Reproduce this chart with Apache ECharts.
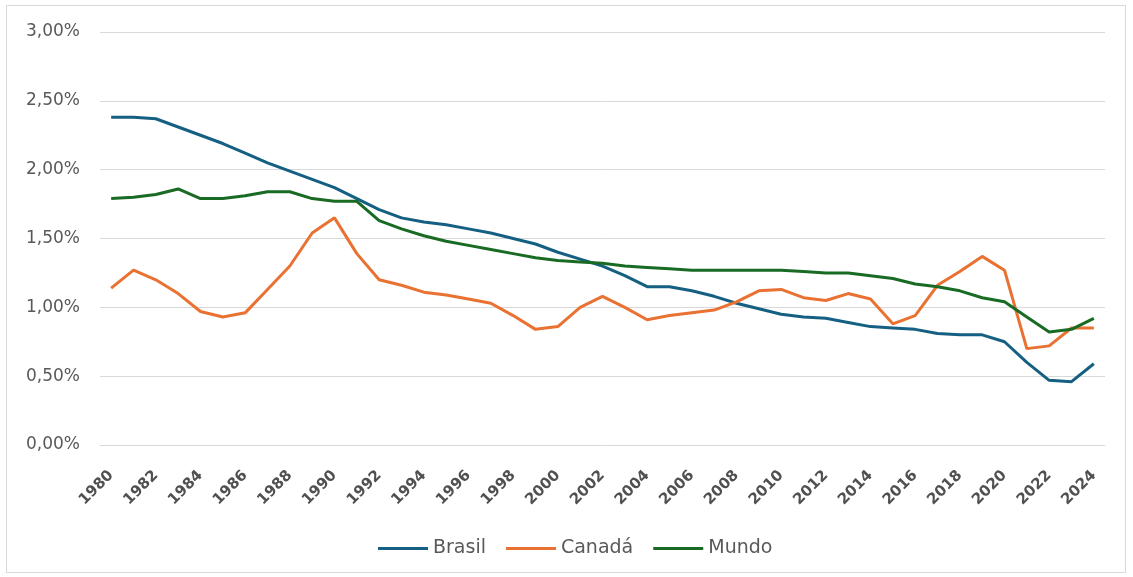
<!DOCTYPE html>
<html>
<head>
<meta charset="utf-8">
<script src="https://cdn.jsdelivr.net/npm/echarts@6/dist/echarts.min.js"></script>
<style>
  html, body { margin: 0; padding: 0; background: #fff; }
  #wrap { position: absolute; left: 6px; top: 5px; width: 1118px; height: 566px; border: 1px solid #d9d9d9; }
  #chart { position: absolute; left: 0; top: 0; width: 1133px; height: 577px; }
</style>
</head>
<body>
<div id="wrap"></div>
<div id="chart"></div>
<script>
// anos 1980 - 2024
var anos = [];
for (var a = 1980; a <= 2024; a++) anos.push(String(a));

// taxa de crescimento (%)
var brasil = [2.38, 2.38, 2.37, 2.31, 2.25, 2.19, 2.12, 2.05, 1.99, 1.93,
  1.87, 1.79, 1.71, 1.65, 1.62, 1.60, 1.57, 1.54, 1.50, 1.46,
  1.40, 1.35, 1.30, 1.23, 1.15, 1.15, 1.12, 1.08, 1.03, 0.99,
  0.95, 0.93, 0.92, 0.89, 0.86, 0.85, 0.84, 0.81, 0.80, 0.80,
  0.75, 0.60, 0.47, 0.46, 0.59];
var canada = [1.14, 1.27, 1.20, 1.10, 0.97, 0.93, 0.96, 1.13, 1.30, 1.54,
  1.65, 1.39, 1.20, 1.16, 1.11, 1.09, 1.06, 1.03, 0.94, 0.84,
  0.86, 1.00, 1.08, 1.00, 0.91, 0.94, 0.96, 0.98, 1.04, 1.12,
  1.13, 1.07, 1.05, 1.10, 1.06, 0.88, 0.94, 1.16, 1.26, 1.37,
  1.27, 0.70, 0.72, 0.85, 0.85];
var mundo = [1.79, 1.80, 1.82, 1.86, 1.79, 1.79, 1.81, 1.84, 1.84, 1.79,
  1.77, 1.77, 1.63, 1.57, 1.52, 1.48, 1.45, 1.42, 1.39, 1.36,
  1.34, 1.33, 1.32, 1.30, 1.29, 1.28, 1.27, 1.27, 1.27, 1.27,
  1.27, 1.26, 1.25, 1.25, 1.23, 1.21, 1.17, 1.15, 1.12, 1.07,
  1.04, 0.93, 0.82, 0.84, 0.92];

var myChart = echarts.init(document.getElementById("chart"));

function serie(nome, dados, cor) {
  return {
    name: nome,
    type: "line",
    data: dados,
    symbol: "none",
    smooth: false,
    lineStyle: { width: 3, color: cor },
    itemStyle: { color: cor },
  };
}

var option = {
  animation: false,
  grid: { left: 100, right: 28, top: 32, bottom: 132 },
  legend: {
    top: 534,
    left: 373,
    itemWidth: 50,
    itemHeight: 3,
    itemGap: 20,
    icon: "rect",
    textStyle: { color: "#595959", fontSize: 19, fontFamily: "DejaVu Sans" },
  },
  xAxis: {
    type: "category",
    data: anos,
    boundaryGap: true,
    axisTick: { show: false },
    axisLine: { lineStyle: { color: "#d9d9d9", width: 1 } },
    axisLabel: {
      interval: 1,
      rotate: 45,
      color: "#505050",
      fontSize: 15,
      fontWeight: "bold",
      fontFamily: "DejaVu Sans",
      margin: 28,
    },
  },
  yAxis: {
    type: "value",
    min: 0,
    max: 3,
    interval: 0.5,
    axisLine: { show: false },
    axisTick: { show: false },
    splitLine: { lineStyle: { color: "#d9d9d9", width: 1 } },
    axisLabel: {
      color: "#595959",
      fontSize: 17,
      fontFamily: "DejaVu Sans",
      margin: 20,
      formatter: function (v) { return v.toFixed(2).replace(".", ",") + "%"; },
    },
  },
  series: [
    serie("Brasil", brasil, "#156082"),
    serie("Canadá", canada, "#e97132"),
    serie("Mundo", mundo, "#196b24"),
  ],
};
myChart.setOption(option);
</script>
</body>
</html>
